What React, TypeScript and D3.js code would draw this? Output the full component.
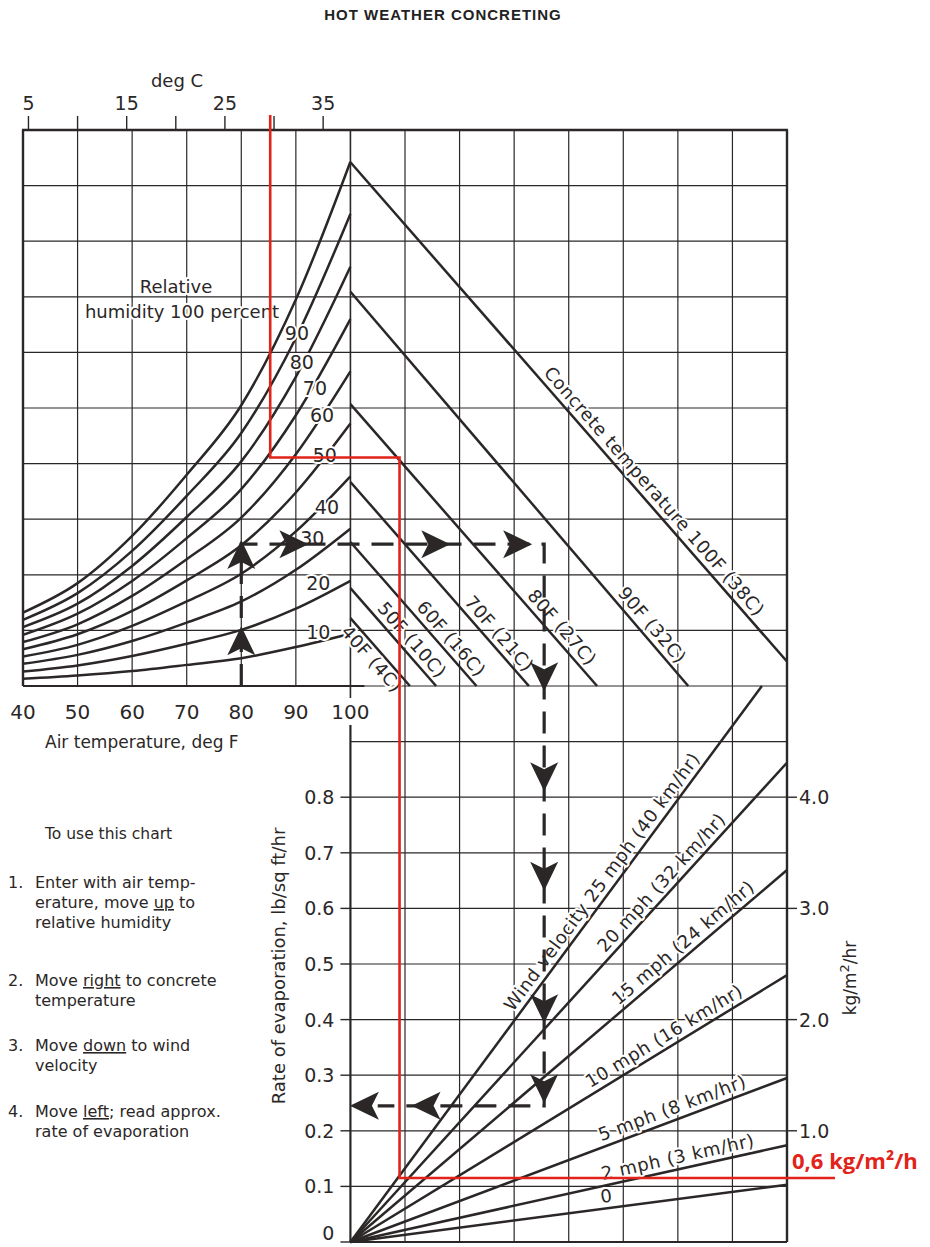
/**
 * Hot weather concreting nomograph (evaporation rate chart)
 * Drawn with D3 into a fixed 930x1247 svg
 */

import * as d3 from "d3";
import React, { useEffect, useRef } from "react";

// air temperature axis (deg F) and the deg C ticks on top
const airTemps = [40, 50, 60, 70, 80, 90, 100];
const celsiusTicks = [5, 10, 15, 20, 25, 30, 35];
const celsiusLabels = [5, 15, 25, 35];

// relative humidity curves, values read at 40..100 F (grid units of vapour pressure)
const humidityNames = ["100", "90", "80", "70", "60", "50", "40", "30", "20", "10"];
const rh100 = [1.32, 1.85, 2.7, 3.8, 5.05, 6.95, 9.43];
const rh90 = [1.19, 1.67, 2.43, 3.42, 4.55, 6.26, 8.49];
const rh80 = [1.06, 1.48, 2.16, 3.04, 4.04, 5.56, 7.54];
const rh70 = [0.92, 1.3, 1.89, 2.66, 3.54, 4.87, 6.6];
const rh60 = [0.79, 1.11, 1.62, 2.28, 3.03, 4.17, 5.66];
const rh50 = [0.66, 0.93, 1.35, 1.9, 2.53, 3.48, 4.72];
const rh40 = [0.53, 0.74, 1.08, 1.52, 2.02, 2.78, 3.77];
const rh30 = [0.4, 0.56, 0.81, 1.14, 1.52, 2.09, 2.83];
const rh20 = [0.26, 0.37, 0.54, 0.76, 1.01, 1.39, 1.89];
const rh10 = [0.13, 0.19, 0.27, 0.38, 0.5, 0.7, 0.94];
const humidityCurves = [rh100, rh90, rh80, rh70, rh60, rh50, rh40, rh30, rh20, rh10];

// concrete temperature lines: start on the 100 F column, run down to the right
const concreteNames = [
  "40F (4C)",
  "50F (10C)",
  "60F (16C)",
  "70F (21C)",
  "80F (27C)",
  "90F (32C)",
  "Concrete temperature 100F (38C)",
];
const concreteStart = [1.22, 1.76, 2.59, 3.67, 5.07, 7.09, 9.42];
const concreteEndCol = [7.09, 7.57, 8.31, 9.27, 10.52, 12.19, 14];
const concreteEndValue = [0, 0, 0, 0, 0, 0, 0.44];

// wind velocity lines from the origin of the lower chart
const windNames = [
  "0",
  "2 mph (3 km/hr)",
  "5 mph (8 km/hr)",
  "10 mph (16 km/hr)",
  "15 mph (24 km/hr)",
  "20 mph (32 km/hr)",
  "Wind velocity 25 mph (40 km/hr)",
];
const windEndCol = [14, 14, 14, 14, 14, 14, 13.54];
const windEndRate = [0.103, 0.174, 0.295, 0.48, 0.669, 0.862, 1.0];

// evaporation axes
const rateTicks = [0, 0.1, 0.2, 0.3, 0.4, 0.5, 0.6, 0.7, 0.8];
const kgTicks = [1, 2, 3, 4];

// worked example (black dashed) and the red reading
const guideAir = 80;
const guideVapour = 2.55;
const guideTurnCol = 9.55;
const guideRate = 0.245;
const guideEndCol = 6.5;
const redAir = 85.3;
const redVapour = 4.11;
const redCol = 6.9;
const redRate = 0.115;
const redLabel = "0,6 kg/m²/h";

const steps: [string, [string, boolean][][]][] = [
  ["1.", [[["Enter with air temp-", false]], [["erature, move ", false], ["up", true], [" to", false]], [["relative humidity", false]]]],
  ["2.", [[["Move ", false], ["right", true], [" to concrete", false]], [["temperature", false]]]],
  ["3.", [[["Move ", false], ["down", true], [" to wind", false]], [["velocity", false]]]],
  ["4.", [[["Move ", false], ["left", true], ["; read approx.", false]], [["rate of evaporation", false]]]],
];

const App: React.FC = () => {
  const svgRef = useRef<SVGSVGElement>(null);

  useEffect(() => {
    if (!svgRef.current) return;
    const svg = d3.select(svgRef.current);
    svg.selectAll("*").remove();

    const ink = "#2b2727";
    const red = "#e2231a";
    const font = "'DejaVu Sans', 'Liberation Sans', sans-serif";

    // one grid of 14 columns; 10 F per column on the air temperature side
    const xCol = d3.scaleLinear().domain([0, 14]).range([23, 787]);
    const xAir = d3.scaleLinear().domain([40, 180]).range([23, 787]);
    const yTop = d3.scaleLinear().domain([0, 10]).range([686, 130]);
    const yRate = d3.scaleLinear().domain([0, 1]).range([1242, 686]);
    const yKg = d3.scaleLinear().domain([0, 5]).range([1242, 686]);
    const cToF = (c: number) => (c * 9) / 5 + 32;

    svg.append("rect").attr("width", 930).attr("height", 1247).attr("fill", "#fff");

    const seg = (g: any, x1: number, y1: number, x2: number, y2: number, w: number) =>
      g
        .append("line")
        .attr("x1", x1)
        .attr("y1", y1)
        .attr("x2", x2)
        .attr("y2", y2)
        .attr("stroke", ink)
        .attr("stroke-width", w);

    // grid
    const grid = svg.append("g");
    d3.range(1, 14).forEach((c) => {
      if (c < 6) seg(grid, xCol(c), yTop(10), xCol(c), yTop(0), 1.2);
      else if (c === 6) {
        seg(grid, xCol(c), yTop(10), xCol(c), yTop(0) + 12, 1.6);
        seg(grid, xCol(c), yRate(0.93), xCol(c), yRate(0), 2.2);
      } else seg(grid, xCol(c), yTop(10), xCol(c), yRate(0), 1.2);
    });
    d3.range(1, 10).forEach((v) => seg(grid, xCol(0), yTop(v), xCol(14), yTop(v), 1.2));
    seg(grid, xCol(6), yTop(0), xCol(14), yTop(0), 1.2);
    d3.range(1, 10).forEach((i) => seg(grid, xCol(6), yRate(i / 10), xCol(14), yRate(i / 10), 1.2));

    // borders and axes
    seg(grid, xCol(0) - 1, yTop(10), xCol(14) + 1, yTop(10), 2.4);
    seg(grid, xCol(0), yTop(10), xCol(0), yTop(0), 2.4);
    seg(grid, xCol(14), yTop(10), xCol(14), yRate(0), 2.4);
    seg(grid, xCol(0), yTop(0), xCol(6) + 14, yTop(0), 2.2);
    seg(grid, xCol(6), yRate(0), xCol(14), yRate(0), 2.2);

    // deg C ticks
    celsiusTicks.forEach((c) => seg(grid, xAir(cToF(c)), yTop(10) - 14, xAir(cToF(c)), yTop(10), 1.4));
    rateTicks.forEach((r) => seg(grid, xCol(6) - 10, yRate(r), xCol(6), yRate(r), 1.4));
    kgTicks.forEach((k) => seg(grid, xCol(14), yKg(k), xCol(14) + 10, yKg(k), 1.4));

    // relative humidity curves
    const curveLine = d3
      .line<[number, number]>()
      .x((d) => xAir(d[0]))
      .y((d) => yTop(d[1]))
      .curve(d3.curveMonotoneX);
    const curves = svg.append("g").attr("fill", "none").attr("stroke", ink).attr("stroke-width", 2.5);
    humidityCurves.forEach((vals) => {
      curves.append("path").attr("d", curveLine(airTemps.map((t, i) => [t, vals[i]] as [number, number])));
    });

    // concrete temperature lines
    concreteStart.forEach((v, i) => {
      curves
        .append("line")
        .attr("x1", xCol(6))
        .attr("y1", yTop(v))
        .attr("x2", xCol(concreteEndCol[i]))
        .attr("y2", yTop(concreteEndValue[i]));
    });

    // wind velocity lines
    windEndRate.forEach((r, i) => {
      curves
        .append("line")
        .attr("x1", xCol(6))
        .attr("y1", yRate(0))
        .attr("x2", xCol(windEndCol[i]))
        .attr("y2", yRate(r));
    });

    const label = (x: number, y: number, s: string, size: number, anchor = "middle") =>
      svg
        .append("text")
        .attr("x", x)
        .attr("y", y)
        .attr("text-anchor", anchor)
        .attr("font-family", font)
        .attr("font-size", size)
        .attr("fill", ink)
        .attr("stroke", "#fff")
        .attr("stroke-width", 4)
        .attr("stroke-linejoin", "round")
        .attr("paint-order", "stroke")
        .text(s);

    // text placed along a straight line
    const along = (x1: number, y1: number, x2: number, y2: number, t: number, s: string, dy: number) => {
      const ang = (Math.atan2(y2 - y1, x2 - x1) * 180) / Math.PI;
      const px = x1 + (x2 - x1) * t;
      const py = y1 + (y2 - y1) * t;
      label(0, 0, s, 18)
        .attr("transform", `translate(${px},${py}) rotate(${ang})`)
        .attr("dy", dy)
        .attr("letter-spacing", 0.6);
    };

    const concreteLabelCol = [6.54, 6.96, 7.68, 8.56, 9.71, 11.36, 11.4];
    concreteStart.forEach((v, i) => {
      const t = (concreteLabelCol[i] - 6) / (concreteEndCol[i] - 6);
      along(xCol(6), yTop(v), xCol(concreteEndCol[i]), yTop(concreteEndValue[i]), t, concreteNames[i], i === 0 ? 17 : -6);
    });

    const windLabelT = [0.59, 0.756, 0.747, 0.733, 0.78, 0.733, 0.635];
    windEndRate.forEach((r, i) => {
      along(xCol(6), yRate(0), xCol(windEndCol[i]), yRate(r), windLabelT[i], windNames[i], -6);
    });

    // humidity labels
    const humLabelPos: [number, number][] = [
      [90.2, 6.35],
      [91.1, 5.83],
      [93.5, 5.36],
      [94.8, 4.87],
      [95.3, 4.15],
      [95.7, 3.22],
      [93.0, 2.66],
      [94.1, 1.85],
      [94.1, 0.97],
    ];
    humidityNames.slice(1).forEach((n, i) => {
      label(xAir(humLabelPos[i][0]), yTop(humLabelPos[i][1]) + 7, n, 19);
    });
    label(176, 293, "Relative", 18);
    label(182, 318, "humidity 100 percent", 18);

    // axis labels
    airTemps.forEach((t) => label(xAir(t), 719, String(t), 20).attr("stroke-width", 0));
    label(45, 748, "Air temperature, deg F", 17, "start").attr("stroke-width", 0);
    celsiusLabels.forEach((c) => label(xAir(cToF(c)), 110, String(c), 19).attr("stroke-width", 0));
    label(177, 87, "deg C", 18).attr("stroke-width", 0);

    rateTicks.forEach((r) =>
      label(xCol(6) - 16, Math.min(yRate(r) + 7, 1240), r === 0 ? "0" : r.toFixed(1), 19, "end").attr(
        "stroke-width",
        0,
      ),
    );
    kgTicks.forEach((k) => label(xCol(14) + 12, yKg(k) + 7, k.toFixed(1), 19, "start").attr("stroke-width", 0));

    label(0, 0, "Rate of evaporation, lb/sq ft/hr", 18)
      .attr("stroke-width", 0)
      .attr("transform", "translate(285,966) rotate(-90)");
    const kg = label(0, 0, "kg/m", 17)
      .attr("stroke-width", 0)
      .attr("transform", "translate(856,978) rotate(-90)");
    kg.append("tspan").attr("dy", -7).attr("font-size", 13).text("2");
    kg.append("tspan").attr("dy", 7).text("/hr");

    // instructions
    label(45, 839, "To use this chart", 15.5, "start").attr("stroke-width", 0);
    const stepTop = [888, 986, 1051, 1117];
    steps.forEach(([num, lines], i) => {
      label(8, stepTop[i], num, 16, "start").attr("stroke-width", 0);
      lines.forEach((parts, j) => {
        const t = label(35, stepTop[i] + j * 20, "", 16, "start").attr("stroke-width", 0);
        parts.forEach(([s, u]) => {
          t.append("tspan")
            .attr("text-decoration", u ? "underline" : null)
            .text(s);
        });
      });
    });

    // title
    svg
      .append("text")
      .attr("x", 443)
      .attr("y", 20)
      .attr("text-anchor", "middle")
      .attr("font-family", "'Liberation Sans', Arial, sans-serif")
      .attr("font-weight", "bold")
      .attr("font-size", 15)
      .attr("letter-spacing", 1)
      .attr("fill", "#222")
      .text("HOT WEATHER CONCRETING");

    // worked example: dashed path with arrow heads
    const guide = svg.append("g");
    const gx0 = xAir(guideAir);
    const gy0 = yTop(guideVapour);
    const gx1 = xCol(guideTurnCol);
    const gy1 = yRate(guideRate);
    guide
      .append("path")
      .attr("d", `M${gx0},${yTop(0)} V${gy0} H${gx1} V${gy1} H${xCol(guideEndCol)}`)
      .attr("fill", "none")
      .attr("stroke", ink)
      .attr("stroke-width", 3.2)
      .attr("stroke-dasharray", "22 12");
    const arrow = "M0,-18 L14,11 L0,4 L-14,11 Z";
    const arrows: [number, number, number][] = [
      [gx0, yTop(0.75), 0],
      [gx0, yTop(2.3), 0],
      [xCol(4.9), gy0, 90],
      [xCol(7.5), gy0, 90],
      [xCol(9.0), gy0, 90],
      [gx1, yTop(0.23), 180],
      [gx1, yRate(0.843), 180],
      [gx1, yRate(0.664), 180],
      [gx1, yRate(0.426), 180],
      [gx1, yRate(0.282), 180],
      [xCol(7.45), gy1, -90],
      [xCol(6.32), gy1, -90],
    ];
    arrows.forEach(([x, y, a]) => {
      guide.append("path").attr("d", arrow).attr("fill", ink).attr("transform", `translate(${x},${y}) rotate(${a})`);
    });

    // red reading
    const rx0 = xAir(redAir);
    const rx1 = xCol(redCol);
    svg
      .append("path")
      .attr(
        "d",
        `M${rx0},${yTop(10) - 15} V${yTop(redVapour)} H${rx1} V${yRate(redRate)} H${xCol(14) + 48}`,
      )
      .attr("fill", "none")
      .attr("stroke", red)
      .attr("stroke-width", 2.6);
    svg
      .append("text")
      .attr("x", xCol(14) + 5)
      .attr("y", yRate(redRate) - 9)
      .attr("font-family", "'Open Sans', 'Liberation Sans', sans-serif")
      .attr("font-weight", "bold")
      .attr("font-size", 22)
      .attr("fill", red)
      .text(redLabel);
  }, []);

  return (
    <svg
      ref={svgRef}
      width={930}
      height={1247}
      style={{ position: "absolute", left: 0, top: 0, display: "block" }}
    />
  );
};

export default App;
